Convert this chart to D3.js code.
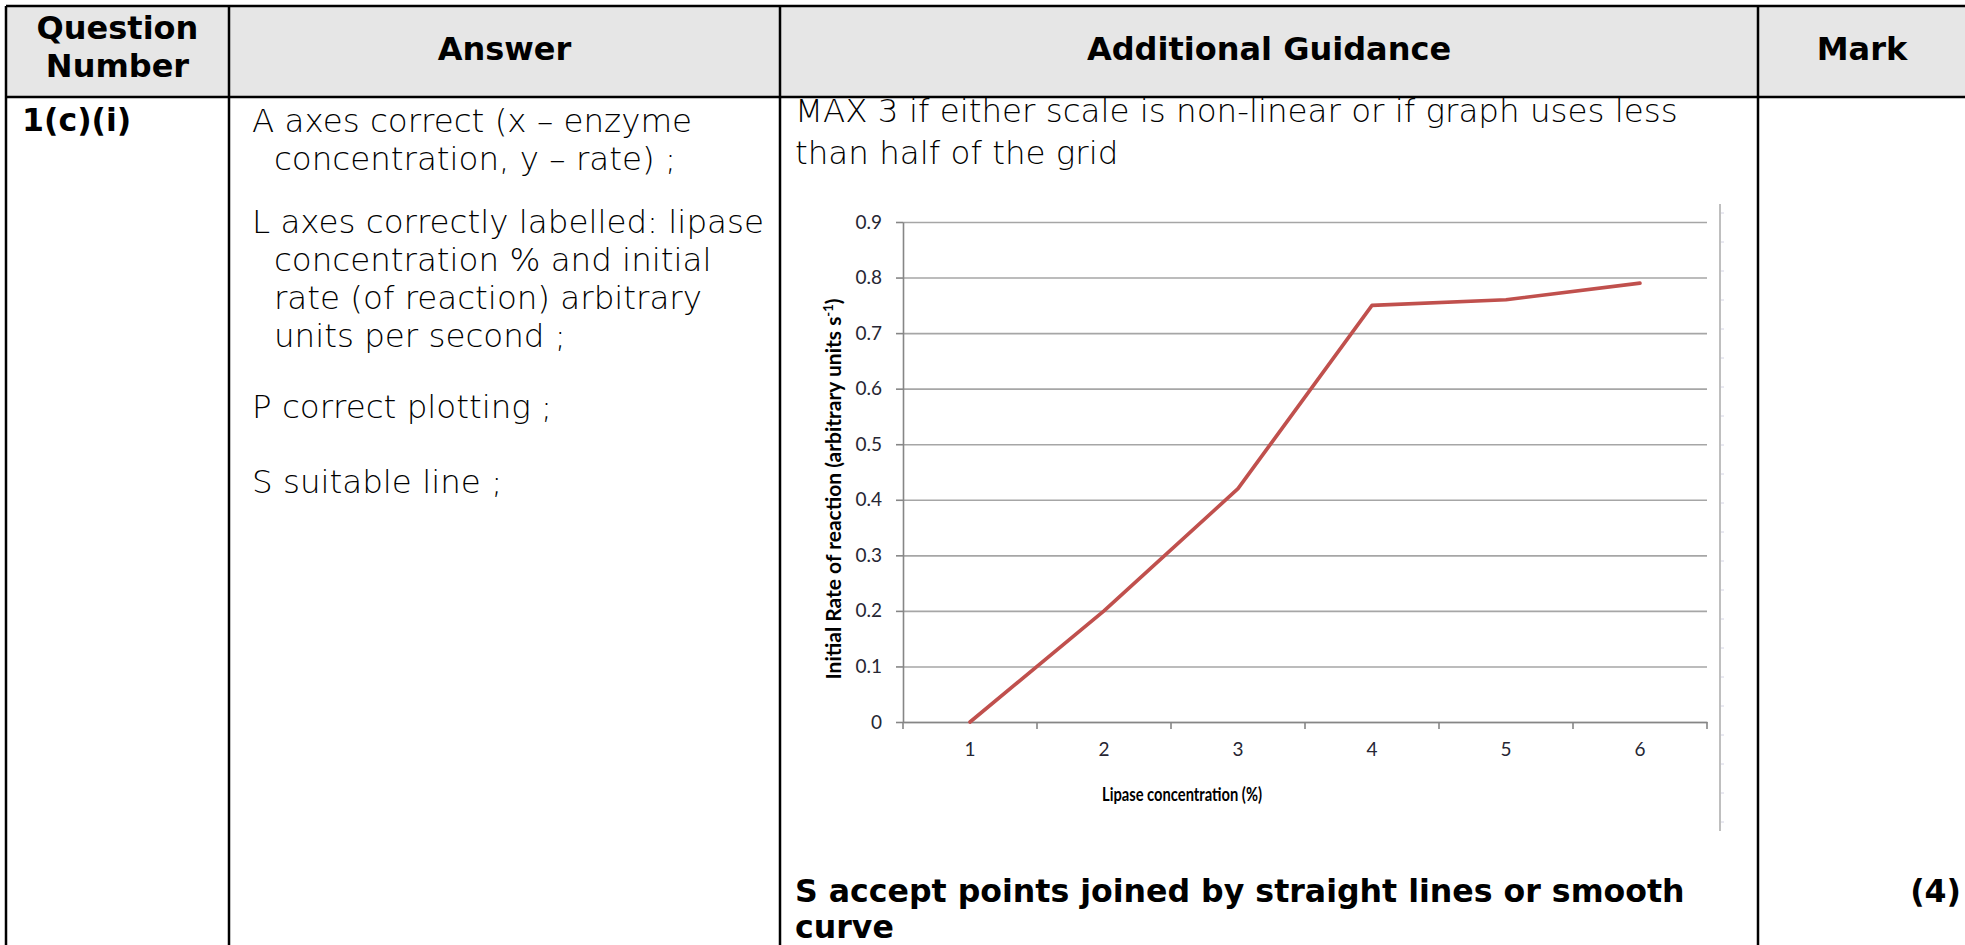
<!DOCTYPE html>
<html>
<head>
    <title>Lipase mark scheme</title>
    <script src="https://d3js.org/d3.v7.min.js"></script>
    <style>
        body { margin: 0; background: #fff; }
        .hdr { font-family: "DejaVu Sans", Verdana, sans-serif; font-weight: bold; font-size: 32px; fill: #000; }
        .body { font-family: "DejaVu Sans", Verdana, sans-serif; font-weight: 200; font-size: 32.5px; fill: #000; }
        .bold { font-family: "DejaVu Sans", Verdana, sans-serif; font-weight: bold; font-size: 31.6px; fill: #000; }
        .chart text { font-family: Lato, "Open Sans", sans-serif; }
    </style>
</head>
<body>
<script>
    // chart data
    const concentration = [1, 2, 3, 4, 5, 6];
    const rate = [0, 0.2, 0.42, 0.75, 0.76, 0.79];
    const yTicks = [0, 0.1, 0.2, 0.3, 0.4, 0.5, 0.6, 0.7, 0.8, 0.9];

    // table text
    const headers = ["Answer", "Additional Guidance", "Mark"];
    const answerA = ["A axes correct (x \u2013 enzyme", "concentration, y \u2013 rate) ;"];
    const answerL = ["L axes correctly labelled: lipase", "concentration % and initial", "rate (of reaction) arbitrary", "units per second ;"];
    const guidance = ["MAX 3 if either scale is non-linear or if graph uses less", "than half of the grid"];
    const footer = ["S accept points joined by straight lines or smooth", "curve"];

    const W = 1965, H = 945;
    const svg = d3.select("body").append("svg")
        .attr("width", W)
        .attr("height", H);

    // column edges
    const cols = [6, 229, 780, 1758, 1966];
    const headTop = 6, headBottom = 97;

    svg.append("rect")
        .attr("x", cols[0]).attr("y", headTop)
        .attr("width", W - cols[0]).attr("height", headBottom - headTop)
        .attr("fill", "#e6e6e6");

    // header text
    svg.append("text").attr("class", "hdr")
        .attr("x", (cols[0] + cols[1]) / 2).attr("y", 39)
        .attr("text-anchor", "middle").text("Question");
    svg.append("text").attr("class", "hdr")
        .attr("x", (cols[0] + cols[1]) / 2).attr("y", 77)
        .attr("text-anchor", "middle").text("Number");
    svg.selectAll(".hcol")
        .data(headers)
        .enter()
        .append("text")
        .attr("class", "hdr hcol")
        .attr("x", (d, i) => (cols[i + 1] + cols[i + 2]) / 2)
        .attr("y", 60)
        .attr("text-anchor", "middle")
        .text(d => d);

    // row text
    svg.append("text").attr("class", "bold")
        .attr("x", 22).attr("y", 131).text("1(c)(i)");

    const lineGap = 38;
    svg.selectAll(".ansA")
        .data(answerA)
        .enter()
        .append("text")
        .attr("class", "body ansA")
        .attr("x", (d, i) => i === 0 ? 252 : 274)
        .attr("y", (d, i) => 132 + i * lineGap)
        .text(d => d);

    svg.selectAll(".ansL")
        .data(answerL)
        .enter()
        .append("text")
        .attr("class", "body ansL")
        .attr("x", (d, i) => i === 0 ? 252 : 274)
        .attr("y", (d, i) => 233 + i * lineGap)
        .text(d => d);

    svg.append("text").attr("class", "body")
        .attr("x", 252).attr("y", 418).text("P correct plotting ;");
    svg.append("text").attr("class", "body")
        .attr("x", 252).attr("y", 493).text("S suitable line ;");

    svg.selectAll(".guide")
        .data(guidance)
        .enter()
        .append("text")
        .attr("class", "body guide")
        .attr("x", 795)
        .attr("y", (d, i) => 122 + i * 42)
        .text(d => d);

    svg.selectAll(".foot")
        .data(footer)
        .enter()
        .append("text")
        .attr("class", "bold foot")
        .attr("x", 795)
        .attr("y", (d, i) => 902 + i * 36)
        .text(d => d);

    svg.append("text").attr("class", "bold")
        .attr("x", 1961).attr("y", 902)
        .attr("text-anchor", "end").text("(4)");

    // chart
    const chart = svg.append("g").attr("class", "chart");

    const x = d3.scaleBand()
        .domain(concentration)
        .range([903, 1707]);

    const y = d3.scaleLinear()
        .domain([0, 0.9])
        .range([722, 222]);

    // gridlines
    chart.append("g")
        .attr("transform", "translate(903,0)")
        .call(d3.axisLeft(y).tickValues(yTicks).tickSize(-(1707 - 903)).tickFormat(""))
        .call(g => g.select(".domain").remove())
        .call(g => g.selectAll("line").attr("stroke", "#a6a6a6").attr("stroke-width", 1.6));

    // y axis
    chart.append("g")
        .attr("transform", "translate(903,0)")
        .call(d3.axisLeft(y).tickValues(yTicks).tickSize(7).tickSizeOuter(0).tickPadding(14)
            .tickFormat(d => d === 0 ? "0" : d3.format(".1f")(d)))
        .call(g => g.select(".domain").attr("stroke", "#868686").attr("stroke-width", 1.6))
        .call(g => g.selectAll("line").attr("stroke", "#868686").attr("stroke-width", 1.6))
        .call(g => g.selectAll("text").attr("font-size", 19).attr("fill", "#262633")
            .style("font-family", "Lato, 'Open Sans', sans-serif"));

    // x axis (labels at band centres, ticks at band edges)
    chart.append("g")
        .attr("transform", "translate(0,722)")
        .call(d3.axisBottom(x).tickSize(0).tickPadding(21))
        .call(g => g.select(".domain").attr("stroke", "#868686").attr("stroke-width", 1.6))
        .call(g => g.selectAll("text").attr("font-size", 19).attr("fill", "#262633")
            .style("font-family", "Lato, 'Open Sans', sans-serif"));

    const edges = concentration.map(d => x(d)).concat([x(concentration[concentration.length - 1]) + x.bandwidth()]);
    chart.selectAll(".xtick")
        .data(edges)
        .enter()
        .append("line")
        .attr("class", "xtick")
        .attr("x1", d => d).attr("x2", d => d)
        .attr("y1", 722).attr("y2", 729)
        .attr("stroke", "#868686")
        .attr("stroke-width", 1.6);

    // series line
    const line = d3.line()
        .x((d, i) => x(concentration[i]) + x.bandwidth() / 2)
        .y(d => y(d));

    chart.append("path")
        .datum(rate)
        .attr("d", line)
        .attr("fill", "none")
        .attr("stroke", "#c0504d")
        .attr("stroke-width", 3.6)
        .attr("stroke-linejoin", "round")
        .attr("stroke-linecap", "round");

    // axis titles
    chart.append("text")
        .attr("x", 1182).attr("y", 801)
        .attr("text-anchor", "middle")
        .attr("font-size", 19)
        .attr("font-weight", "bold")
        .attr("textLength", 160)
        .attr("lengthAdjust", "spacingAndGlyphs")
        .text("Lipase concentration (%)");

    const yTitle = chart.append("text")
        .attr("transform", "translate(841,489) rotate(-90)")
        .attr("text-anchor", "middle")
        .attr("font-size", 21)
        .attr("font-weight", "bold");
    yTitle.append("tspan").text("Initial Rate of reaction (arbitrary units s");
    yTitle.append("tspan").attr("font-size", 13).attr("dy", -8).text("-1");
    yTitle.append("tspan").attr("dy", 8).text(")");

    // right frame edge of the embedded chart picture
    chart.append("line")
        .attr("x1", 1720).attr("x2", 1720)
        .attr("y1", 204).attr("y2", 831)
        .attr("stroke", "#bfbfbf")
        .attr("stroke-width", 2);
    chart.selectAll(".frameTick")
        .data(d3.range(213, 831, 29))
        .enter()
        .append("line")
        .attr("class", "frameTick")
        .attr("x1", 1721).attr("x2", 1724)
        .attr("y1", d => d).attr("y2", d => d)
        .attr("stroke", "#d4d4e4")
        .attr("stroke-width", 1);

    // table rules
    const rules = svg.append("g")
        .attr("stroke", "#000")
        .attr("stroke-width", 2.5);
    rules.append("line").attr("x1", cols[0]).attr("x2", W).attr("y1", headTop).attr("y2", headTop);
    rules.append("line").attr("x1", cols[0]).attr("x2", W).attr("y1", headBottom).attr("y2", headBottom);
    rules.selectAll(".vrule")
        .data(cols.slice(0, 4))
        .enter()
        .append("line")
        .attr("x1", d => d).attr("x2", d => d)
        .attr("y1", headTop).attr("y2", H);
</script>
</body>
</html>
